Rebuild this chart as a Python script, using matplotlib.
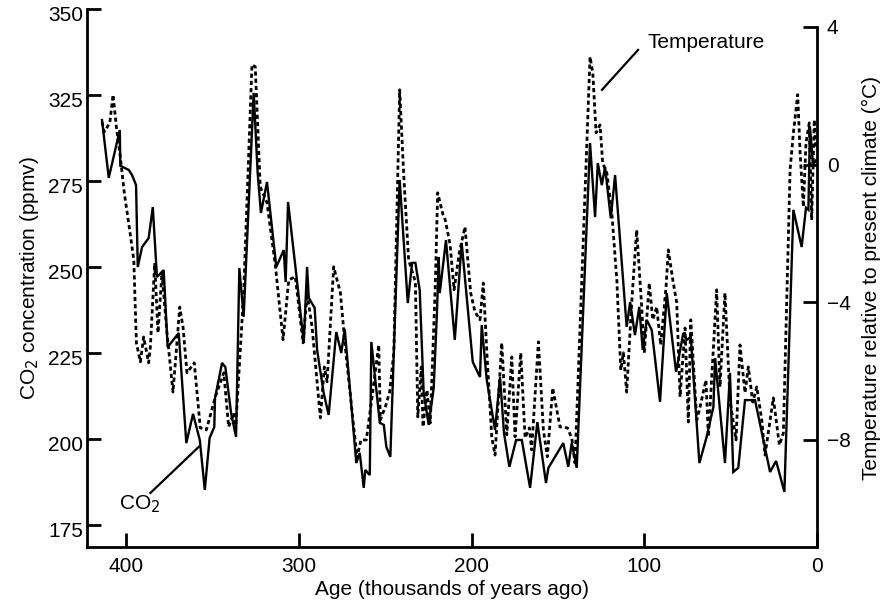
import matplotlib
matplotlib.use("Agg")
import matplotlib.pyplot as plt
from matplotlib.transforms import ScaledTranslation

plt.rcParams['font.family'] = ['Liberation Sans', 'DejaVu Sans']

# CO2 record (solid line), ppmv on the chart's left scale
co2_age = [413.9, 410.0, 403.6, 403.3, 398.4, 396.5, 394.2, 393.2, 390.7, 386.9, 384.5, 382.1, 378.2, 375.9,
           369.5, 365.1, 361.2, 357.3, 354.4, 351.6, 348.9, 348.5, 344.4, 342.5, 339.2, 336.3, 334.4, 331.9,
           326.1, 323.8, 321.9, 318.4, 313.0, 308.7, 307.6, 306.2, 301.6, 297.1, 295.2, 294.2, 290.8, 289.4,
           285.6, 282.7, 278.3, 275.4, 273.4, 266.7, 264.7, 262.4, 261.5, 258.9, 258.0, 253.1, 250.8, 249.3,
           247.0, 245.0, 241.6, 236.9, 234.4, 232.5, 230.0, 227.7, 224.8, 221.9, 220.0, 219.0, 218.4, 214.8,
           209.7, 205.7, 199.3, 195.1, 194.1, 191.2, 186.4, 183.5, 181.2, 178.1, 174.2, 170.9, 166.1, 161.9,
           156.9, 155.5, 146.9, 144.0, 142.0, 139.1, 131.4, 128.5, 126.9, 124.6, 122.7, 119.4, 116.9, 110.2,
           108.2, 105.4, 102.9, 100.9, 98.6, 95.7, 90.9, 87.0, 81.6, 77.4, 75.4, 73.1, 68.1, 63.9, 60.0, 59.0,
           53.3, 50.4, 48.5, 45.6, 41.7, 35.9, 27.2, 23.7, 18.9, 13.7, 8.9, 6.4, 5.0, 4.1, 2.3, 0.6]
co2 = [292.7, 275.9, 289.8, 279.4, 278.2, 276.7, 273.8, 250.0, 255.8, 258.4, 267.4, 247.1, 249.1, 226.7,
       230.8, 198.8, 207.3, 199.7, 185.2, 200.3, 203.5, 211.9, 222.1, 220.9, 207.6, 200.6, 249.7, 235.5,
       300.6, 277.3, 265.7, 274.7, 250.0, 254.9, 245.6, 268.9, 248.5, 227.9, 250.0, 241.0, 238.1, 225.9,
       213.4, 207.0, 231.1, 225.0, 232.0, 193.0, 195.9, 185.8, 191.0, 189.5, 228.2, 204.7, 204.1, 197.7,
       194.8, 225.0, 275.3, 239.5, 251.2, 251.2, 243.3, 213.4, 204.1, 214.8, 236.9, 252.9, 242.4, 257.8,
       228.8, 257.0, 222.4, 218.0, 233.1, 217.2, 202.6, 218.0, 201.7, 191.9, 199.7, 199.7, 185.8, 204.9,
       187.2, 191.6, 198.8, 191.9, 198.8, 191.6, 286.0, 264.5, 280.2, 273.8, 279.1, 264.2, 276.7, 232.6,
       239.8, 230.2, 238.4, 225.9, 234.6, 231.7, 210.8, 242.4, 219.5, 230.8, 228.8, 229.7, 193.0, 200.6, 209.3, 223.5,
       193.0, 219.2, 190.4, 191.6, 211.3, 211.3, 190.4, 193.6, 184.6, 266.6, 255.8, 267.2, 266.6, 290.7, 279.7, 281.0]

# temperature record (dotted line), degC relative to present
temp_age = [413.9, 412.6, 409.4, 407.5, 405.6, 403.3, 401.0, 397.9, 395.5, 394.0, 391.7, 389.8, 386.9, 385.9,
            383.4, 381.5, 379.2, 376.3, 372.8, 368.9, 367.0, 364.7, 360.5, 357.0, 353.5, 348.3, 343.4, 340.6,
            337.7, 336.7, 331.9, 327.1, 325.2, 322.3, 318.4, 313.6, 309.1, 305.8, 302.0, 297.5, 295.2, 292.3,
            287.5, 285.2, 283.6, 279.8, 275.9, 273.1, 266.3, 264.0, 260.9, 257.6, 253.7, 252.8, 249.9, 247.4,
            245.0, 241.6, 239.2, 236.4, 232.5, 231.1, 229.1, 228.1, 225.8, 223.9, 221.0, 219.6, 216.5, 215.2,
            212.4, 210.1, 207.1, 203.8, 200.5, 198.0, 195.1, 193.2, 190.9, 188.3, 186.4, 182.5, 179.6, 176.7,
            174.8, 171.5, 169.0, 166.5, 165.2, 161.3, 158.4, 156.1, 153.0, 148.8, 144.5, 142.0, 140.1, 131.4,
            129.8, 127.9, 125.6, 124.1, 121.7, 118.8, 115.9, 113.6, 112.1, 110.2, 107.3, 104.4, 101.5, 100.0,
            97.1, 95.1, 92.8, 90.5, 87.4, 86.1, 83.5, 81.2, 79.3, 76.4, 74.5, 73.1, 69.6, 67.7, 64.3, 62.9,
            58.1, 56.2, 53.3, 50.4, 46.9, 44.6, 41.7, 39.8, 37.2, 34.9, 32.0, 30.1, 25.3, 21.8, 19.5, 15.6,
            13.7, 11.2, 9.8, 7.9, 6.4, 4.5, 3.1, 1.6, 0.6]
temp = [1.24, 0.95, 1.21, 2.03, 1.10, 0.22, -0.82, -1.90, -2.77, -5.18, -5.73, -5.01, -5.76, -5.30,
        -2.86, -4.89, -3.15, -4.89, -6.61, -4.14, -4.72, -6.05, -5.76, -7.65, -7.71, -6.75, -6.05, -7.62,
        -7.22, -7.80, -3.73, 2.90, 2.84, -0.65, -1.11, -2.91, -5.09, -3.35, -3.26, -5.18, -3.73, -4.72,
        -7.36, -5.88, -6.31, -2.97, -3.73, -5.30, -8.52, -8.00, -8.00, -6.75, -5.24, -7.42, -7.04, -6.61,
        -5.47, 2.17, -0.36, -2.77, -3.41, -7.33, -5.88, -7.62, -6.55, -7.51, -3.55, -0.82, -1.46, -1.61,
        -2.33, -3.64, -2.57, -1.81, -3.73, -4.28, -4.51, -3.44, -5.68, -7.91, -8.44, -5.18, -7.85, -5.59,
        -7.91, -5.47, -7.94, -7.65, -8.29, -5.15, -7.71, -8.49, -6.49, -7.62, -7.65, -7.94, -8.67, 3.13,
        2.66, 0.92, 1.15, 0.05, -0.24, -1.40, -3.35, -5.97, -5.47, -6.61, -4.02, -1.90, -4.14, -5.47,
        -3.44, -4.51, -4.14, -5.24, -3.55, -2.48, -3.35, -4.02, -6.75, -4.75, -7.48, -4.51, -7.42, -7.04, -6.26, -7.91,
        -3.64, -6.46, -3.73, -6.84, -8.00, -5.24, -6.63, -5.88, -6.90, -6.46, -7.42, -8.44, -6.78, -8.15, -7.80, -0.15,
        0.92, 2.03, 0.34, -1.23, 0.63, 1.21, -1.61, 1.30, 0.43]

x_ticks = [400, 300, 200, 100, 0]
co2_ticks = [175, 200, 225, 250, 275, 300, 325]
co2_ticklabels = ['175', '200', '225', '250', '275', '325', '350']  # as printed on the original
temp_ticks = [4, 0, -4, -8]
temp_ticklabels = ['4', '0', '\u22124', '\u22128']

fig = plt.figure(figsize=(8.83, 6.05), dpi=100)
ax = fig.add_axes([0.0985, 0.0959, 0.8268, 0.8893])
ax2 = ax.twinx()

ax.plot(co2_age, co2, color='black', lw=1.7, solid_joinstyle='miter')
ax2.plot(temp_age, temp, color='black', lw=2.0, linestyle=(0, (1.5, 1.1)))

ax.set_xlim(422.6, 0)
ax.set_ylim(168.6, 325.0)
ax2.set_ylim(-11.11, 4.52)

ax.set_xticks(x_ticks)
ax.set_yticks(co2_ticks)
ax.set_yticklabels(co2_ticklabels)
ax2.set_yticks(temp_ticks)
ax2.set_yticklabels(temp_ticklabels)

for a in (ax, ax2):
    a.spines['top'].set_visible(False)
    for s in a.spines.values():
        s.set_linewidth(2.0)
ax.spines['right'].set_visible(False)
ax2.spines['left'].set_visible(False)
ax2.spines['bottom'].set_visible(False)
ax2.spines['right'].set_bounds(-11.11, 4)

ax.tick_params(axis='both', direction='in', length=10, width=2.0, labelsize=15)
ax.tick_params(axis='y', pad=3)
ax.tick_params(axis='x', pad=7)
ax2.tick_params(axis='y', direction='in', length=10, width=2.0, labelsize=15, pad=7)

# left tick labels sit a little below their ticks in the original
shift = ScaledTranslation(0, -0.05, fig.dpi_scale_trans)
for lab in ax.get_yticklabels():
    lab.set_transform(lab.get_transform() + shift)

ax.set_xlabel('Age (thousands of years ago)', fontsize=15, labelpad=3)
ax.set_ylabel('CO$_2$ concentration (ppmv)', fontsize=15, labelpad=5)
ax2.set_ylabel('Temperature relative to present climate (\u00b0C)', fontsize=15, labelpad=8)

# callouts
ax.plot([385.9, 357.9], [184.3, 197.7], color='black', lw=1.6)
ax.text(391.9, 181.1, 'CO$_2$', fontsize=15, ha='center', va='center')
ax2.plot([124.5, 103.6], [2.17, 3.33], color='black', lw=1.6)
ax2.text(98.4, 3.54, 'Temperature', fontsize=15, ha='left', va='center')

fig.savefig('out.png', dpi=100)
